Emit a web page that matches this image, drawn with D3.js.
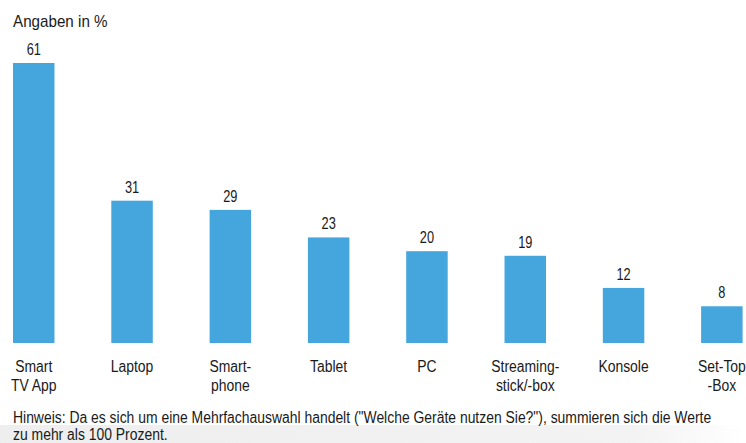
<!DOCTYPE html>
<html>
<head>
<meta charset="utf-8">
<title>Geräte Nutzung</title>
<script src="https://cdn.jsdelivr.net/npm/d3@7"></script>
<style>
  body { margin: 0; background: #fff; }
  text { font-family: "Liberation Sans", Arial, sans-serif; fill: #1a1a1a; }
</style>
</head>
<body>
<svg id="svg"></svg>
<script>
var categories = [["Smart", "TV App"], ["Laptop"], ["Smart-", "phone"], ["Tablet"], ["PC"], ["Streaming-", "stick/-box"], ["Konsole"], ["Set-Top", "-Box"]];
var values = [61, 31, 29, 23, 20, 19, 12, 8];
var unitLabel = "Angaben in %";
var noteLines = ["Hinweis: Da es sich um eine Mehrfachauswahl handelt (\"Welche Geräte nutzen Sie?\"), summieren sich die Werte",
                 "zu mehr als 100 Prozent."];

var width = 746, height = 443;
var baseY = 343, topY = 63;
var squeeze = 0.87; // the original type is a condensed face

var svg = d3.select("#svg").attr("width", width).attr("height", height);

// faint grey band at the bottom
var grad = svg.append("defs").append("linearGradient").attr("id", "fade");
grad.append("stop").attr("offset", "0%").attr("stop-color", "#eeeeee");
grad.append("stop").attr("offset", "85%").attr("stop-color", "#f3f3f3");
grad.append("stop").attr("offset", "100%").attr("stop-color", "#ffffff");
svg.append("rect").attr("x", 0).attr("y", 425).attr("width", width).attr("height", height - 425)
   .attr("fill", "url(#fade)");

var idx = values.map(function(d, i) { return i; });

var x = d3.scaleBand().domain(idx).range([13, 742.6]).paddingInner(0.578).paddingOuter(0);
var y = d3.scaleLinear().domain([0, d3.max(values)]).range([baseY, topY]);

function place(px, py, sx) {
  return "translate(" + px + "," + py + ") scale(" + sx + ",1)";
}

svg.append("text").attr("transform", place(13, 27, 0.95)).style("font-size", "16px").text(unitLabel);

svg.selectAll("rect.bar").data(values).enter().append("rect")
   .attr("class", "bar")
   .attr("x", function(d, i) { return x(i); })
   .attr("y", function(d) { return y(d); })
   .attr("width", x.bandwidth())
   .attr("height", function(d) { return baseY - y(d); })
   .attr("fill", "#45a6dd");

svg.selectAll("text.val").data(values).enter().append("text")
   .attr("class", "val")
   .attr("transform", function(d, i) { return place(x(i) + x.bandwidth() / 2, y(d) - 8, 0.8); })
   .attr("text-anchor", "middle")
   .style("font-size", "16px")
   .text(function(d) { return d; });

svg.selectAll("g.cat").data(categories).enter().append("g")
   .attr("class", "cat")
   .attr("transform", function(d, i) { return place(x(i) + x.bandwidth() / 2, 372, squeeze); })
   .each(function(lines) {
     var g = d3.select(this);
     lines.forEach(function(l, j) {
       g.append("text").attr("x", 0).attr("y", j * 19)
        .attr("text-anchor", "middle").style("font-size", "16px").text(l);
     });
   });

var note = svg.append("g").attr("transform", place(13, 423, squeeze));
noteLines.forEach(function(l, j) {
  note.append("text").attr("x", 0).attr("y", j * 17).style("font-size", "16px").text(l);
});
</script>
</body>
</html>
